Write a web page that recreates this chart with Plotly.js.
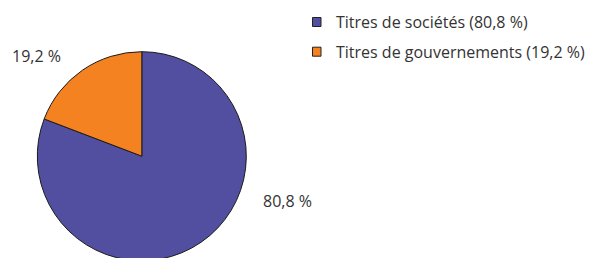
<!DOCTYPE html>
<html>
<head>
<meta charset="utf-8">
<script src="https://cdn.plot.ly/plotly-3.0.1.min.js"></script>
<style>
html,body{margin:0;padding:0;background:#fff;overflow:hidden;}
#wrap{width:590px;height:258px;overflow:hidden;}
</style>
</head>
<body>
<div id="wrap"><div id="chart"></div></div>
<script>
const labels = ["Titres de sociétés", "Titres de gouvernements"];
const values = [80.8, 19.2];
const colors = ["#524fa0", "#f58220"];

// the pie extends slightly below the visible 258px window, as in the reference
const W = 590, H = 262;
const px = x => x / W;
const py = y => 1 - y / H;
const fmt = v => v.toFixed(1).replace('.', ',') + ' %';
const FONT = "Open Sans, Noto Sans, sans-serif";
const FS = 16;

const trace = {
  type: 'pie',
  labels: labels,
  values: values,
  sort: false,
  direction: 'clockwise',
  rotation: 0,
  textinfo: 'none',
  hoverinfo: 'skip',
  showlegend: false,
  marker: {colors: colors, line: {color: '#1a1a1a', width: 1}},
  domain: {x: [px(37.3), px(246.3)], y: [py(260.7), py(51.7)]}
};

// slice labels (positions as in the reference)
const sliceLabelPos = [[287, 201], [36.5, 56]];
const annotations = values.map((v, i) => ({
  xref: 'paper', yref: 'paper',
  x: px(sliceLabelPos[i][0]), y: py(sliceLabelPos[i][1]),
  xanchor: 'center', yanchor: 'middle',
  text: fmt(v), showarrow: false,
  font: {family: FONT, size: FS, color: '#333333'}
}));

// legend
const legendRows = [22, 51.7];
const shapes = [];
labels.forEach((lab, i) => {
  const cy = legendRows[i];
  shapes.push({
    type: 'rect', xref: 'paper', yref: 'paper',
    x0: px(312.5), x1: px(321), y0: py(cy - 4.5), y1: py(cy + 4.5),
    fillcolor: colors[i], line: {color: '#222222', width: 1}
  });
  annotations.push({
    xref: 'paper', yref: 'paper',
    x: px(334), y: py(cy),
    xanchor: 'left', yanchor: 'middle',
    text: lab + ' (' + fmt(values[i]) + ')', showarrow: false,
    font: {family: FONT, size: FS, color: '#333333'}
  });
});

const layout = {
  width: W, height: H,
  margin: {l: 0, r: 0, t: 0, b: 0},
  paper_bgcolor: '#ffffff',
  showlegend: false,
  shapes: shapes,
  annotations: annotations
};

Plotly.newPlot('chart', [trace], layout, {displayModeBar: false, staticPlot: true});
</script>
</body>
</html>
